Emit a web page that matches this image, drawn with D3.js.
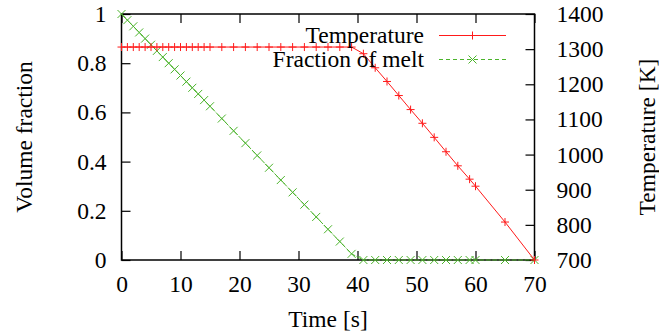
<!DOCTYPE html>
<html>
<head>
<meta charset="UTF-8">
<title>Temperature and melt fraction</title>
<script src="https://d3js.org/d3.v7.min.js"></script>
<style>
  body { margin: 0; padding: 0; background: #fff; }
  svg { display: block; font-family: "Liberation Serif", "Times New Roman", Times, serif; }
  .axis text { font-size: 23.5px; fill: #000; }
  .axis line { stroke: #000; stroke-width: 1.2; }
  .label { font-size: 23.5px; fill: #000; }
  .legend text { font-size: 23.5px; fill: #000; }
</style>
</head>
<body>
<div id="chart"></div>
<script>
// time steps [s]
const times = [0, 1, 2, 3, 4, 5, 6, 7, 8, 9, 10, 11, 12, 13, 14, 15,
  17, 19, 21, 23, 25, 27, 29, 31, 33, 35, 37, 39,
  41, 43, 45, 47, 49, 51, 53, 55, 57, 59, 60, 65, 70];
// temperature [K]
const temperature = [1306, 1306, 1306, 1306, 1306, 1306, 1306, 1306, 1306, 1306, 1306, 1306, 1306, 1306, 1306, 1306,
  1306, 1306, 1306, 1306, 1306, 1306, 1306, 1306, 1306, 1306, 1306, 1306,
  1287, 1247, 1208, 1168, 1128, 1089, 1049, 1008, 968, 930, 910, 808, 700];
// volume fraction of melt
const meltFraction = [1, 0.975, 0.95, 0.925, 0.9, 0.875, 0.85, 0.825, 0.8, 0.775, 0.75, 0.725, 0.7, 0.675, 0.65, 0.625,
  0.575, 0.525, 0.475, 0.425, 0.375, 0.325, 0.275, 0.225, 0.175, 0.125, 0.075, 0.025,
  0, 0, 0, 0, 0, 0, 0, 0, 0, 0, 0, 0, 0];

const xTicks = [0, 10, 20, 30, 40, 50, 60, 70];
const yTicks = [0, 0.2, 0.4, 0.6, 0.8, 1];
const y2Ticks = [700, 800, 900, 1000, 1100, 1200, 1300, 1400];

const width = 659, height = 335;
const plotLeft = 121.5, plotRight = 534.5, plotTop = 14, plotBottom = 260;

const svg = d3.select("#chart").append("svg")
  .attr("width", width)
  .attr("height", height);

const x = d3.scaleLinear().domain([0, 70]).range([plotLeft, plotRight]);
const y = d3.scaleLinear().domain([0, 1]).range([plotBottom, plotTop]);
const y2 = d3.scaleLinear().domain([700, 1400]).range([plotBottom, plotTop]);

const tempData = times.map((t, i) => ({ t: t, v: temperature[i] }));
const meltData = times.map((t, i) => ({ t: t, v: meltFraction[i] }));

const red = "#ff1a1a";
const green = "#4cb42c";

// axes (ticks point inward)
svg.append("g").attr("class", "axis")
  .attr("transform", `translate(0,${plotBottom})`)
  .call(d3.axisBottom(x).tickValues(xTicks).tickFormat(d3.format("d"))
    .tickSizeInner(-9).tickSizeOuter(0).tickPadding(15))
  .call(g => g.select(".domain").remove());

svg.append("g").attr("class", "axis")
  .attr("transform", `translate(0,${plotTop})`)
  .call(d3.axisTop(x).tickValues(xTicks).tickFormat("")
    .tickSizeInner(-9).tickSizeOuter(0))
  .call(g => g.select(".domain").remove());

svg.append("g").attr("class", "axis")
  .attr("transform", `translate(${plotLeft},0)`)
  .call(d3.axisLeft(y).tickValues(yTicks).tickFormat(d3.format("~g"))
    .tickSizeInner(-9).tickSizeOuter(0).tickPadding(15))
  .call(g => g.select(".domain").remove());

svg.append("g").attr("class", "axis")
  .attr("transform", `translate(${plotRight},0)`)
  .call(d3.axisRight(y2).tickValues(y2Ticks).tickFormat(d3.format("d"))
    .tickSizeInner(-9).tickSizeOuter(0).tickPadding(22))
  .call(g => g.select(".domain").remove());

svg.selectAll(".axis").attr("font-family", null).attr("font-size", null);

// frame
svg.append("rect")
  .attr("x", plotLeft).attr("y", plotTop)
  .attr("width", plotRight - plotLeft).attr("height", plotBottom - plotTop)
  .attr("fill", "none").attr("stroke", "#000").attr("stroke-width", 1.5);

// axis titles
svg.append("text").attr("class", "label")
  .attr("x", (plotLeft + plotRight) / 2).attr("y", 327)
  .attr("text-anchor", "middle")
  .text("Time [s]");

svg.append("text").attr("class", "label")
  .attr("transform", `translate(32,${(plotTop + plotBottom) / 2}) rotate(-90)`)
  .attr("text-anchor", "middle")
  .text("Volume fraction");

svg.append("text").attr("class", "label")
  .attr("transform", `translate(655,${(plotTop + plotBottom) / 2}) rotate(-90)`)
  .attr("text-anchor", "middle")
  .text("Temperature [K]");

// markers
function plus(g, cx, cy, color) {
  g.append("path")
    .attr("d", `M${cx - 4},${cy}H${cx + 4}M${cx},${cy - 4}V${cy + 4}`)
    .attr("stroke", color).attr("stroke-width", 1).attr("fill", "none");
}
function cross(g, cx, cy, color) {
  g.append("path")
    .attr("d", `M${cx - 4},${cy - 4}L${cx + 4},${cy + 4}M${cx - 4},${cy + 4}L${cx + 4},${cy - 4}`)
    .attr("stroke", color).attr("stroke-width", 1).attr("fill", "none");
}

// melt fraction series
const melt = svg.append("g");
melt.append("path")
  .datum(meltData)
  .attr("fill", "none")
  .attr("stroke", green)
  .attr("stroke-width", 1)
  .attr("stroke-dasharray", "5,1.5")
  .attr("d", d3.line().x(d => x(d.t)).y(d => y(d.v)));
meltData.forEach(d => cross(melt, x(d.t), y(d.v), green));

// temperature series
const temp = svg.append("g");
temp.append("path")
  .datum(tempData)
  .attr("fill", "none")
  .attr("stroke", red)
  .attr("stroke-width", 1)
  .attr("d", d3.line().x(d => x(d.t)).y(d => y2(d.v)));
tempData.forEach(d => plus(temp, x(d.t), y2(d.v), red));

// legend
const legend = svg.append("g").attr("class", "legend");
const items = [
  { name: "Temperature", color: red, dash: null, mark: plus, y: 35.5 },
  { name: "Fraction of melt", color: green, dash: "4,3", mark: cross, y: 59.5 }
];
items.forEach(it => {
  legend.append("text")
    .attr("x", 424).attr("y", it.y).attr("dy", "0.33em")
    .attr("text-anchor", "end")
    .text(it.name);
  legend.append("line")
    .attr("x1", 439).attr("x2", 506)
    .attr("y1", it.y).attr("y2", it.y)
    .attr("stroke", it.color).attr("stroke-width", 1)
    .attr("stroke-dasharray", it.dash);
  it.mark(legend, 472.5, it.y, it.color);
});
</script>
</body>
</html>
